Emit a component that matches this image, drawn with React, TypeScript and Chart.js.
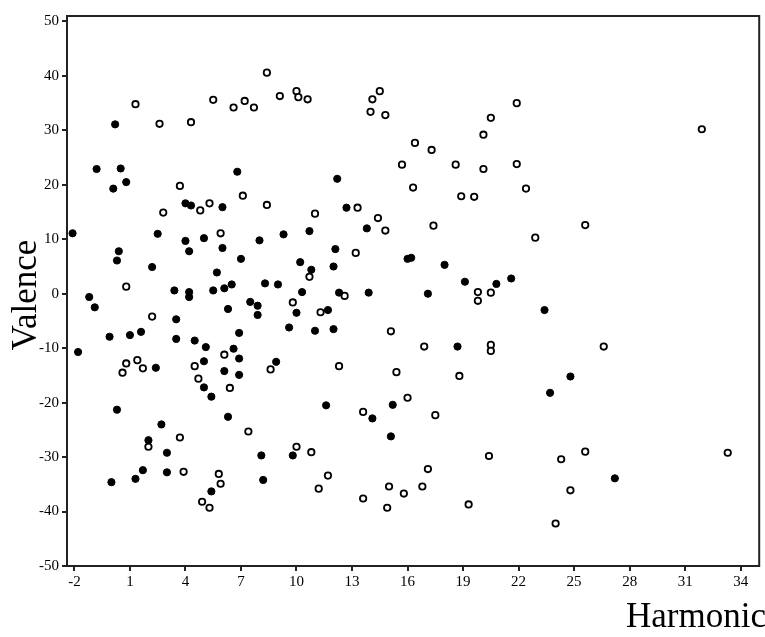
import React, { useEffect, useRef } from "react";
import { Chart, registerables } from "chart.js";
Chart.register(...registerables);

const xTicks = [-2, 1, 4, 7, 10, 13, 16, 19, 22, 25, 28, 31, 34];
const yTicks = [-50, -40, -30, -20, -10, 0, 10, 20, 30, 40, 50];

const filledX = [-2.1,-1.2,-0.8,0.2,0.5,0.8,0.1,0.4,0.3,2.5,2.2,3.4,4.2,4.2,4.0,4.2,4.0,4.3,5.0,6.0,6.0,5.7,5.5,6.1,6.5,6.8,7.0,8.0,8.3,9.0,9.3,10.2,10.7,10.8,10.3,
-0.9,-1.8,-0.1,1.0,1.6,2.4,3.5,3.5,4.5,5.1,5.0,5.0,5.4,6.3,6.6,6.9,6.9,6.9,6.1,6.3,7.5,7.9,7.9,8.9,9.6,10.0,11.0,
0.3,2.7,2.0,3.0,1.7,3.0,1.3,0.0,5.4,8.1,8.2,9.8,
12.2,12.7,13.8,12.1,12.0,16.0,16.2,18.0,19.1,20.8,21.6,12.3,13.9,17.1,
23.4,11.7,12.0,18.7,24.8,23.7,11.6,15.2,14.1,15.1,27.2];
const filledY = [11.1,-0.6,22.9,31.1,23.0,20.5,19.3,7.8,6.1,11.0,4.9,0.6,0.3,-0.6,9.7,7.8,16.6,16.2,10.2,15.9,8.4,3.9,0.6,1.0,1.7,22.4,6.4,9.8,1.9,1.7,10.9,5.8,11.5,4.4,0.3,
-2.5,-10.7,-7.9,-7.6,-7.0,-13.6,-4.7,-8.3,-8.6,-9.8,-12.4,-17.2,-18.9,-2.8,-10.1,-11.9,-7.2,-14.9,-14.2,-22.6,-1.5,-2.2,-3.9,-12.5,-6.2,-3.5,-6.8,
-21.3,-24.0,-26.9,-29.2,-32.4,-32.8,-34.0,-34.6,-36.3,-29.7,-34.2,-29.7,
21.1,15.8,12.0,8.2,5.0,6.4,6.6,5.3,2.2,1.8,2.8,0.2,0.2,0.0,
-3.0,-3.0,-6.5,-9.7,-15.2,-18.2,-20.5,-20.4,-22.9,-26.2,-33.9];

const openX = [1.3,2.6,4.3,5.5,6.6,7.2,7.7,8.4,9.1,10.0,10.1,10.6,3.7,2.8,4.8,5.3,7.1,8.4,5.9,11.0,10.7,0.8,
2.2,0.8,0.6,1.4,1.7,4.5,4.7,6.1,6.4,8.6,9.8,2.0,3.7,3.9,7.4,10.0,10.8,11.2,5.8,5.9,4.9,5.3,
14.5,14.1,14.0,14.8,21.9,20.5,20.1,16.4,17.3,15.7,18.6,20.1,21.9,22.4,16.3,18.9,19.6,31.9,13.3,14.4,14.8,17.4,13.2,25.6,22.9,12.6,19.8,20.5,19.8,
11.3,15.1,16.9,20.5,20.5,26.6,12.3,15.4,18.8,16.0,13.6,17.5,20.4,25.6,24.3,33.3,17.1,11.7,15.0,15.8,16.8,13.6,14.9,19.3,24.8,24.0];
const openY = [34.8,31.2,31.5,35.6,34.2,35.4,34.2,40.6,36.3,37.2,36.1,35.7,19.8,14.9,15.3,16.6,18.0,16.3,11.1,14.7,3.1,1.3,
-4.2,-12.8,-14.5,-12.2,-13.7,-13.3,-15.6,-11.2,-17.3,-13.9,-1.6,-28.1,-26.4,-32.7,-25.3,-28.1,-29.1,-35.8,-33.1,-34.9,-38.2,-39.3,
37.2,35.7,33.4,32.8,35.0,32.3,29.2,27.7,26.4,23.7,23.7,22.9,23.8,19.3,19.5,17.9,17.8,30.2,15.8,13.9,11.6,12.5,7.5,12.6,10.3,-0.4,0.3,0.2,-1.3,
-3.4,-6.9,-9.7,-9.4,-10.5,-9.7,-13.3,-14.4,-15.1,-19.1,-21.7,-22.3,-29.8,-29.0,-30.4,-29.2,-32.2,-33.4,-35.4,-36.7,-35.4,-37.6,-39.3,-38.7,-36.1,-42.2];

const SERIF = "'Liberation Serif', 'DejaVu Serif', serif";

export default function App() {
  const ref = useRef<HTMLCanvasElement>(null);
  useEffect(() => {
    const pts = (xs: number[], ys: number[]) => xs.map((x, i) => ({ x, y: ys[i] }));
    const frame = {
      id: "frame",
      afterDraw(c: any) {
        const { ctx, chartArea: a } = c;
        ctx.save();
        ctx.strokeStyle = "#222";
        ctx.lineWidth = 2;
        ctx.strokeRect(a.left, a.top, a.right - a.left, a.bottom - a.top);
        ctx.fillStyle = "#000";
        ctx.font = `35px ${SERIF}`;
        ctx.textAlign = "left";
        ctx.textBaseline = "alphabetic";
        ctx.fillText("Harmonic", 626, 627);
        ctx.translate(36, 295);
        ctx.rotate(-Math.PI / 2);
        ctx.textAlign = "center";
        ctx.fillText("Valence", 0, 0);
        ctx.restore();
      },
    };
    const chart = new Chart(ref.current!, {
      type: "scatter",
      data: {
        datasets: [
          { data: pts(filledX, filledY), pointRadius: 3.6, backgroundColor: "#000", borderColor: "#000", borderWidth: 1 },
          { data: pts(openX, openY), pointRadius: 3.2, backgroundColor: "#fff", borderColor: "#000", borderWidth: 1.8 },
        ],
      },
      options: {
        animation: false,
        responsive: false,
        layout: { padding: { top: 16, right: 4, left: 0, bottom: 0 } },
        plugins: { legend: { display: false }, tooltip: { enabled: false } },
        scales: {
          x: {
            type: "linear", min: -2.4, max: 35,
            afterBuildTicks: (s: any) => { s.ticks = xTicks.map((v) => ({ value: v })); },
            afterFit: (s: any) => { s.height = 71; },
            ticks: { color: "#000", font: { family: SERIF, size: 15 }, padding: 2, maxRotation: 0, autoSkip: false },
            grid: { drawOnChartArea: false, drawTicks: true, tickLength: 5, color: "#222", lineWidth: 2 },
            border: { display: true, color: "#222", width: 2 },
          },
          y: {
            type: "linear", min: -50, max: 51,
            afterBuildTicks: (s: any) => { s.ticks = yTicks.map((v) => ({ value: v })); },
            afterFit: (s: any) => { s.width = 67; },
            ticks: { color: "#000", font: { family: SERIF, size: 15 }, padding: 3, autoSkip: false },
            grid: { drawOnChartArea: false, drawTicks: true, tickLength: 5, color: "#222", lineWidth: 2 },
            border: { display: true, color: "#222", width: 2 },
          },
        },
      },
      plugins: [frame],
    });
    return () => chart.destroy();
  }, []);
  return (
    <div style={{ position: "fixed", left: 0, top: 0, width: 765, height: 637, background: "#fff" }}>
      <canvas ref={ref} width={765} height={637} style={{ width: 765, height: 637 }} />
    </div>
  );
}
